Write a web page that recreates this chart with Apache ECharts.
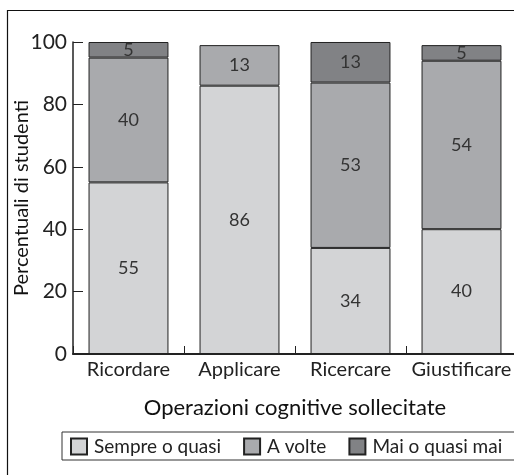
<!DOCTYPE html>
<html>
<head>
<meta charset="utf-8">
<script src="https://cdn.jsdelivr.net/npm/echarts@6/dist/echarts.min.js"></script>
<style>
  html, body { margin: 0; padding: 0; background: #fff; }
  #chart { width: 514px; height: 475px; }
</style>
</head>
<body>
<div id="chart"></div>
<script>
// Categories and stacked percentages
const categories = ['Ricordare', 'Applicare', 'Ricercare', 'Giustificare'];
const seriesNames = ['Sempre o quasi', 'A volte', 'Mai o quasi mai'];
const sempre = [55, 86, 34, 40];
const aVolte = [40, 13, 53, 54];
const mai = [5, null, 13, 5];
const yTicks = [0, 20, 40, 60, 80, 100];

const FONT = 'Lato, "Open Sans", sans-serif';
const colors = ['#d3d4d6', '#a9aaad', '#818285'];

const chart = echarts.init(document.getElementById('chart'), null, { renderer: 'canvas' });

function barSeries(name, data, color) {
  return {
    name: name,
    type: 'bar',
    stack: 'total',
    data: data,
    barCategoryGap: '28%',
    itemStyle: { color: color, borderColor: '#222', borderWidth: 1 },
    label: {
      show: true,
      position: 'inside',
      color: '#333',
      fontFamily: FONT,
      fontSize: 18,
      formatter: p => (p.value == null ? '' : String(p.value))
    },
    emphasis: { disabled: true }
  };
}

chart.setOption({
  animation: false,
  backgroundColor: '#fff',
  textStyle: { fontFamily: FONT },
  graphic: [{
    type: 'rect',
    shape: { x: 7.5, y: 10.5, width: 600, height: 600 },
    style: { fill: 'none', stroke: '#111', lineWidth: 1.2 },
    silent: true,
    z: -10
  }],
  grid: { left: 73, top: 42, width: 444, height: 312, outerBoundsMode: 'none', containLabel: false },
  legend: {
    data: seriesNames,
    icon: 'rect',
    left: 62,
    top: 432,
    width: 800,
    orient: 'horizontal',
    padding: [5, 40, 4, 8],
    itemWidth: 16,
    itemHeight: 16,
    itemGap: 22,
    borderColor: '#333',
    borderWidth: 1,
    backgroundColor: '#fff',
    textStyle: { fontFamily: FONT, fontSize: 19, color: '#222', padding: [0, 0, 0, 2] },
    selectedMode: false
  },
  xAxis: {
    type: 'category',
    data: categories,
    name: 'Operazioni cognitive sollecitate',
    nameLocation: 'middle',
    nameGap: 43,
    nameTextStyle: { fontFamily: FONT, fontSize: 22, color: '#111' },
    axisLine: { lineStyle: { color: '#222', width: 2 } },
    axisTick: { show: true, inside: true, length: 8, lineStyle: { color: '#222' } },
    axisLabel: { interval: 0, fontFamily: FONT, fontSize: 20, color: '#222', margin: 6 }
  },
  yAxis: {
    type: 'value',
    min: yTicks[0],
    max: yTicks[yTicks.length - 1],
    interval: 20,
    name: 'Percentuali di studenti',
    nameLocation: 'middle',
    nameGap: 41,
    nameMoveOverlap: false,
    nameTextStyle: { fontFamily: FONT, fontSize: 20, color: '#111' },
    axisLine: { show: true, lineStyle: { color: '#222', width: 1.5 } },
    axisTick: { show: true, inside: true, length: 10, lineStyle: { color: '#222' } },
    axisLabel: { fontFamily: FONT, fontSize: 21, color: '#222', margin: 6 },
    splitLine: { show: false }
  },
  series: [
    barSeries(seriesNames[0], sempre, colors[0]),
    barSeries(seriesNames[1], aVolte, colors[1]),
    barSeries(seriesNames[2], mai, colors[2])
  ]
});
</script>
</body>
</html>
